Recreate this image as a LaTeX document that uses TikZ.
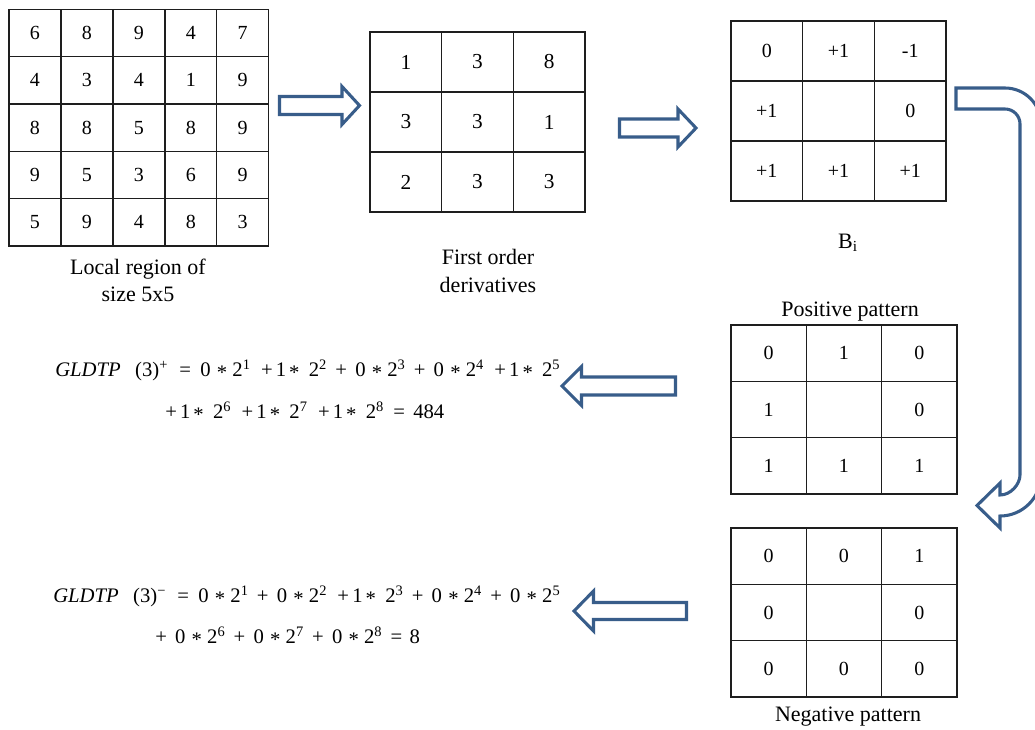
\documentclass[tikz,border=0pt]{standalone}
\usepackage{fontspec}
\setmainfont{Liberation Serif}
\definecolor{arrowblue}{RGB}{56,93,138}
\definecolor{gridcol}{RGB}{30,30,30}
\newcommand{\pw}[1]{2\textsuperscript{#1}}
\newcommand{\tms}{\raisebox{-0.4ex}{*}}
% "+ 0 * 2^n" and "+1* 2^n" terms
\newcommand{\tzero}[1]{\hspace{0.4em}+\hspace{0.4em}0\hspace{0.3em}\tms\hspace{0.25em}\pw{#1}}
\newcommand{\tone}[1]{\hspace{0.5em}+\hspace{0.15em}1\hspace{0.15em}\tms\hspace{0.45em}\pw{#1}}
\begin{document}
\begin{tikzpicture}[x=0.75pt,y=-0.75pt,
  cell/.style 2 args={draw=gridcol, line width=1.1pt, inner sep=0pt,
    minimum width=#1*0.75pt, minimum height=#2*0.75pt},
  cellfont/.style={font=\fontsize{15}{18}\selectfont},
  lbl/.style={font=\fontsize{16.5}{20.5}\selectfont, align=center, inner sep=0pt},
  formula/.style={font=\fontsize{15.5}{18}\selectfont, inner sep=0pt, anchor=base west},
  blockarrow/.style={draw=arrowblue, line width=2.3pt, fill=white, line join=miter}]
\useasboundingbox (0,0) rectangle (1035,729);
\clip (0,0) rectangle (1035,729);
\fill[white] (0,0) rectangle (1035,729);

% Grid 1: local region 5x5
\foreach \v [count=\i from 0] in {6,8,9,4,7,4,3,4,1,9,8,8,5,8,9,9,5,3,6,9,5,9,4,8,3} {
  \pgfmathtruncatemacro\r{div(\i,5)}
  \pgfmathtruncatemacro\c{mod(\i,5)}
  \node[cell={51.94}{47.3}, cellfont] (ga-\r-\c) at ({9+51.94*(\c+0.5)},{9.3+47.34*(\r+0.5)}) {\v};
}
% Grid 2: first order derivatives
\foreach \v [count=\i from 0] in {1,3,8,3,3,1,2,3,3} {
  \pgfmathtruncatemacro\r{div(\i,3)}
  \pgfmathtruncatemacro\c{mod(\i,3)}
  \node[cell={71.7}{60}, font=\fontsize{16}{19}\selectfont] (gb-\r-\c) at ({370+71.7*(\c+0.5)},{32+60*(\r+0.5)}) {\v};
}
% Grid 3: B_i
\foreach \v [count=\i from 0] in {0,+1,-1,+1,{},0,+1,+1,+1} {
  \pgfmathtruncatemacro\r{div(\i,3)}
  \pgfmathtruncatemacro\c{mod(\i,3)}
  \node[cell={71.7}{60}, cellfont] (gc-\r-\c) at ({731+71.7*(\c+0.5)},{21+60*(\r+0.5)}) {\v};
}
% Positive pattern
\foreach \v [count=\i from 0] in {0,1,0,1,{},0,1,1,1} {
  \pgfmathtruncatemacro\r{div(\i,3)}
  \pgfmathtruncatemacro\c{mod(\i,3)}
  \node[cell={75.3}{56.3}, cellfont] (gp-\r-\c) at ({731+75.3*(\c+0.5)},{325+56.3*(\r+0.5)}) {\v};
}
% Negative pattern
\foreach \v [count=\i from 0] in {0,0,1,0,{},0,0,0,0} {
  \pgfmathtruncatemacro\r{div(\i,3)}
  \pgfmathtruncatemacro\c{mod(\i,3)}
  \node[cell={75.3}{56.3}, cellfont] (gn-\r-\c) at ({731+75.3*(\c+0.5)},{528+56.3*(\r+0.5)}) {\v};
}

% Labels
\node[lbl] (lblA) at (138,280.5) {Local region of\\size 5x5};
\node[lbl] (lblB) at (488,271) {First order\\derivatives};
\node[lbl] (lblC) at (848,243) {B\textsubscript{i}};
\node[lbl] (lblP) at (850,312) {Positive pattern};
\node[lbl] (lblN) at (848,717) {Negative pattern};

% Formulas
\node[formula] (fp1) at (55,376) {\textit{GLDTP}\hspace{0.7em}(3)\textsuperscript{+}\hspace{0.55em}=\hspace{0.45em}0\hspace{0.3em}\tms\hspace{0.25em}\pw{1}\tone{2}\tzero{3}\tzero{4}\tone{5}};
\node[formula] (fp2) at (165,418) {+\hspace{0.15em}1\hspace{0.15em}\tms\hspace{0.45em}\pw{6}\tone{7}\tone{8}\hspace{0.45em}=\hspace{0.4em}484};
\node[formula] (fn1) at (53,602) {\textit{GLDTP}\hspace{0.7em}(3)\textsuperscript{\textminus}\hspace{0.55em}=\hspace{0.45em}0\hspace{0.3em}\tms\hspace{0.25em}\pw{1}\tzero{2}\tone{3}\tzero{4}\tzero{5}};
\node[formula] (fn2) at (155,643) {+\hspace{0.4em}0\hspace{0.3em}\tms\hspace{0.25em}\pw{6}\tzero{7}\tzero{8}\hspace{0.4em}=\hspace{0.35em}8};

% Block arrows
\draw[blockarrow] (279.5,96.5) -- (342,96.5) -- (342,86.5) -- (359.5,105.5) -- (342,124.5) -- (342,114.5) -- (279.5,114.5) -- cycle;
\draw[blockarrow] (619.5,119) -- (678,119) -- (678,109) -- (696,128) -- (678,147) -- (678,137) -- (619.5,137) -- cycle;
\draw[blockarrow] (675.5,377) -- (581.5,377) -- (581.5,366.5) -- (562,386) -- (581.5,405.5) -- (581.5,395) -- (675.5,395) -- cycle;
\draw[blockarrow] (686.5,602.5) -- (593.5,602.5) -- (593.5,591) -- (574,611) -- (593.5,631) -- (593.5,619.5) -- (686.5,619.5) -- cycle;

% Curved arrow from B_i to the patterns
\draw[blockarrow] (956,88) -- (1005,88)
  .. controls (1024.9,88) and (1041,104.1) .. (1041,124)
  -- (1041,475)
  .. controls (1041,497.6) and (1022.6,516) .. (1000,516)
  -- (1000,528) -- (977,505.5) -- (1000,483) -- (1000,495)
  .. controls (1011,495) and (1020,484) .. (1020,475)
  -- (1020,124)
  .. controls (1020,115.7) and (1013.3,109) .. (1005,109)
  -- (956,109) -- cycle;
\end{tikzpicture}
\end{document}
